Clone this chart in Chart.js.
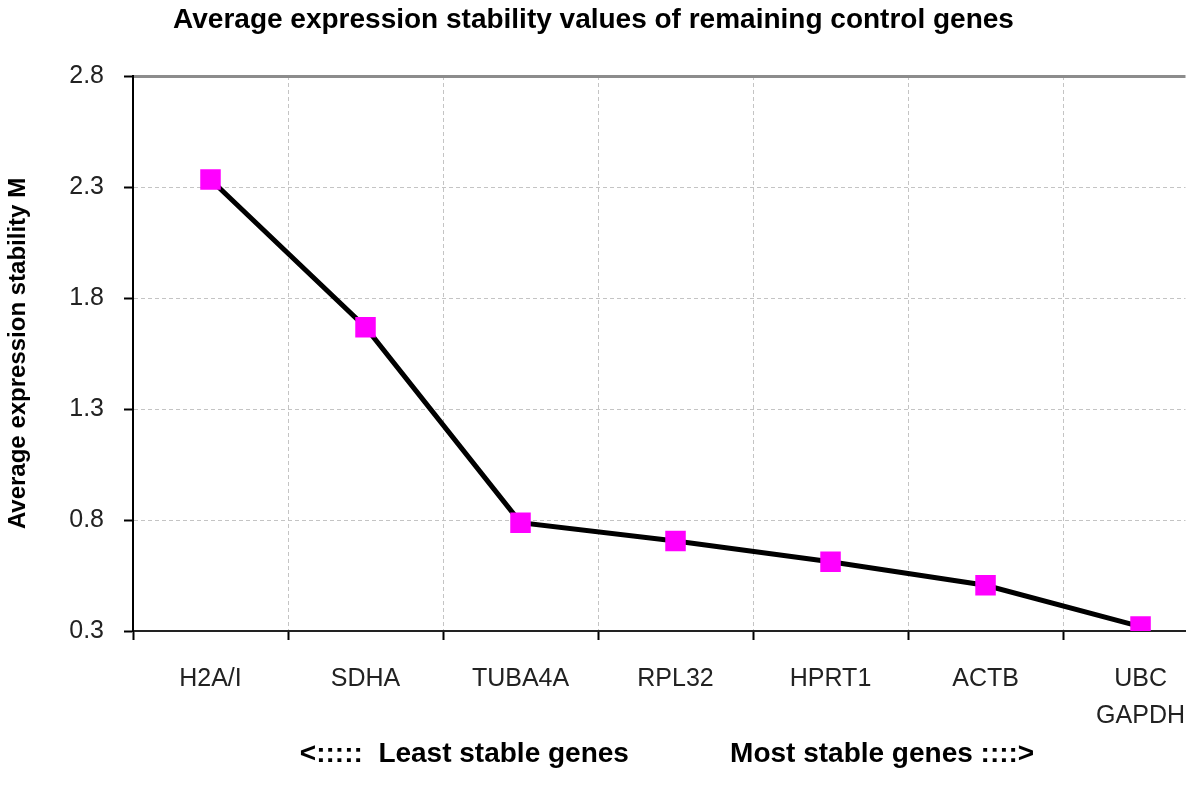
<!DOCTYPE html>
<html>
<head>
<meta charset="utf-8">
<title>Average expression stability</title>
<script src="https://cdn.jsdelivr.net/npm/chart.js@4.4.1/dist/chart.umd.min.js"></script>
<style>
  html, body { margin: 0; padding: 0; background: #ffffff; }
  #chart { display: block; }
</style>
</head>
<body>
<canvas id="chart" width="1200" height="787"></canvas>
<script>
// genes, from least to most stable
const genes = ['H2A/I', 'SDHA', 'TUBA4A', 'RPL32', 'HPRT1', 'ACTB', ['UBC', 'GAPDH']];
// average expression stability M
const stabilityM = [2.334, 1.668, 0.788, 0.705, 0.612, 0.506, 0.320];
// y axis ticks
const yTicks = [0.3, 0.8, 1.3, 1.8, 2.3, 2.8];

const fontFamily = '"Liberation Sans", Arial, sans-serif';
const dashGray = '#c4c4c4';

// category centres sit on integers, boundaries on halves
const isBoundary = v => Math.abs(v - Math.round(v)) > 0.25;

new Chart(document.getElementById('chart'), {
    type: 'line',
    data: {
        datasets: [{
            data: stabilityM.map((m, i) => ({ x: i, y: m })),
            borderColor: '#000000',
            borderWidth: 5,
            tension: 0,
            fill: false,
            pointStyle: 'rect',
            pointRadius: 14.5,
            pointBorderWidth: 0,
            pointBackgroundColor: '#ff00ff'
        }]
    },
    options: {
        responsive: false,
        animation: false,
        devicePixelRatio: 1,
        layout: { padding: { left: 0, right: 13, top: 0, bottom: 0 } },
        plugins: {
            legend: { display: false },
            tooltip: { enabled: false },
            title: {
                display: true,
                text: 'Average expression stability values of remaining control genes',
                color: '#000000',
                font: { family: fontFamily, size: 28, weight: 'bold', lineHeight: 1.2 },
                padding: { top: 3, bottom: 39.4 }
            }
        },
        scales: {
            x: {
                type: 'linear',
                min: -0.5,
                max: 6.29,
                afterBuildTicks: axis => {
                    axis.ticks = Array.from({ length: genes.length * 2 }, (_, i) => ({ value: i / 2 - 0.5 }));
                },
                afterFit: axis => {
                    axis.height = 156;
                    // last category is cut by the frame, labels fit anyway
                    axis.paddingLeft = 0;
                    axis.paddingRight = 0;
                },
                ticks: {
                    autoSkip: false,
                    maxRotation: 0,
                    minRotation: 0,
                    padding: 21,
                    color: '#222222',
                    font: { family: fontFamily, size: 25, lineHeight: 1.48 },
                    callback: v => (isBoundary(v) ? '' : genes[Math.round(v)])
                },
                grid: {
                    color: ctx => (isBoundary(ctx.tick.value) && ctx.tick.value > -0.4 ? dashGray : 'rgba(0,0,0,0)'),
                    lineWidth: 1,
                    drawTicks: true,
                    tickLength: 9,
                    tickWidth: 2,
                    tickColor: ctx => (isBoundary(ctx.tick.value) ? '#000000' : 'rgba(0,0,0,0)')
                },
                border: { display: true, color: '#222222', width: 2, dash: [4, 3] },
                title: {
                    display: true,
                    text: '  <:::::  Least stable genes             Most stable genes ::::>',
                    color: '#000000',
                    font: { family: fontFamily, size: 28, weight: 'bold', lineHeight: 1.2 },
                    padding: { top: 0, bottom: 15.6 }
                }
            },
            y: {
                min: 0.3,
                max: 2.8,
                afterBuildTicks: axis => {
                    axis.ticks = yTicks.map(v => ({ value: v }));
                },
                afterFit: axis => { axis.width = 133; },
                ticks: {
                    padding: 20,
                    color: '#222222',
                    font: { family: fontFamily, size: 25 },
                    callback: v => v.toFixed(1)
                },
                grid: {
                    color: ctx => {
                        const v = ctx.tick.value;
                        if (v >= 2.79) return '#8c8c8c';
                        if (v <= 0.31) return 'rgba(0,0,0,0)';
                        return dashGray;
                    },
                    lineWidth: ctx => (ctx.tick.value >= 2.79 ? 3 : 1),
                    drawTicks: true,
                    tickLength: 9,
                    tickWidth: 2,
                    tickColor: '#000000'
                },
                border: {
                    display: true,
                    color: '#000000',
                    width: 2,
                    dash: ctx => (ctx.tick && ctx.tick.value >= 2.79 ? [] : [4, 3])
                },
                title: {
                    display: true,
                    text: 'Average expression stability M',
                    color: '#000000',
                    font: { family: fontFamily, size: 24, weight: 'bold', lineHeight: 1.2 },
                    padding: { top: 4, bottom: 0 }
                }
            }
        }
    }
});
</script>
</body>
</html>
